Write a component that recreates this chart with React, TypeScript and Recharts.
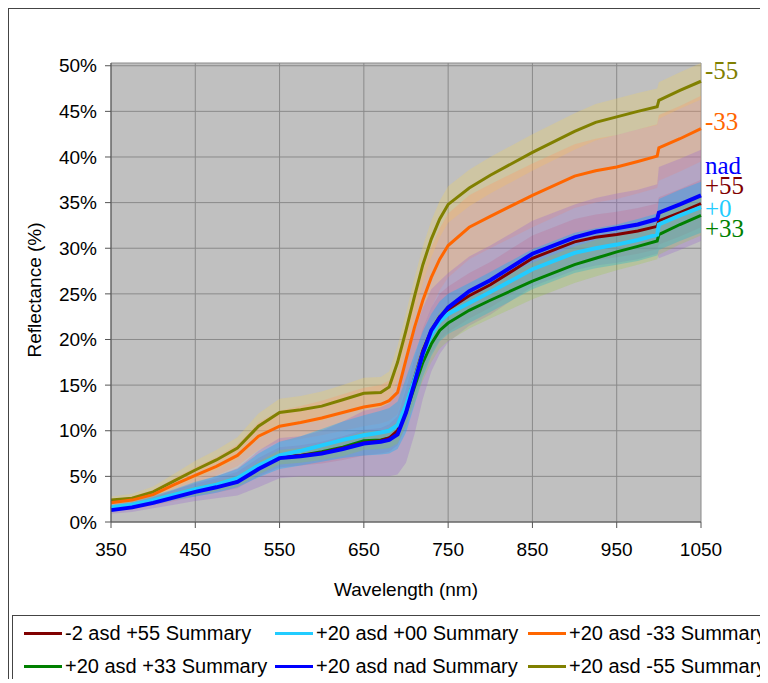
import React from 'react';
import {
  ComposedChart,
  Area,
  Line,
  XAxis,
  YAxis,
  CartesianGrid,
  LabelList
} from 'recharts';

// wavelength samples (nm)
const wavelengths = [
  350, 375, 400, 425, 450, 475, 500, 525, 550, 575, 600, 625, 650, 670, 680, 690, 700,
  710, 720, 730, 740, 750, 775, 800, 850, 900, 925, 950, 975, 998, 1000, 1025, 1050
];

// mean reflectance (%) per view angle
const m55Mean = [2.4, 2.6, 3.3, 4.5, 5.7, 6.8, 8.1, 10.5, 12.0, 12.3, 12.7, 13.4, 14.1, 14.2, 14.8, 17.5, 21.0, 24.7, 28.2, 31.0, 33.2, 34.8, 36.6, 38.0, 40.5, 42.8, 43.8, 44.4, 45.0, 45.5, 46.2, 47.3, 48.3];
const m33Mean = [2.1, 2.4, 3.0, 4.1, 5.1, 6.1, 7.3, 9.4, 10.5, 10.9, 11.4, 12.0, 12.6, 12.9, 13.3, 14.2, 17.8, 21.3, 24.3, 26.8, 28.8, 30.3, 32.3, 33.5, 35.8, 37.9, 38.5, 38.9, 39.5, 40.1, 41.0, 42.0, 43.1];
const nadMean = [1.3, 1.6, 2.1, 2.7, 3.3, 3.8, 4.4, 5.8, 7.0, 7.2, 7.5, 8.0, 8.6, 8.8, 9.0, 9.6, 12.0, 15.2, 18.5, 21.0, 22.4, 23.5, 25.3, 26.5, 29.4, 31.2, 31.8, 32.2, 32.6, 33.2, 33.9, 34.8, 35.8];
const p55Mean = [1.5, 1.8, 2.3, 2.9, 3.5, 4.0, 4.6, 6.0, 7.1, 7.3, 7.6, 8.1, 8.7, 8.9, 9.2, 10.0, 12.6, 15.8, 18.8, 21.0, 22.5, 23.3, 24.8, 26.0, 28.9, 30.7, 31.2, 31.5, 31.9, 32.4, 33.0, 33.9, 34.9];
const p00Mean = [1.6, 1.9, 2.4, 3.0, 3.6, 4.1, 4.8, 6.2, 7.3, 7.8, 8.4, 9.0, 9.5, 9.8, 10.0, 10.6, 12.8, 15.6, 18.4, 20.5, 22.0, 22.8, 24.0, 25.2, 27.7, 29.5, 30.0, 30.4, 30.9, 31.5, 32.6, 33.6, 34.5];
const p33Mean = [1.5, 1.8, 2.3, 2.9, 3.4, 3.9, 4.5, 5.9, 7.1, 7.3, 7.7, 8.2, 8.9, 9.0, 9.2, 9.8, 12.0, 14.8, 17.5, 19.5, 21.0, 21.8, 23.2, 24.3, 26.4, 28.2, 28.9, 29.6, 30.2, 30.8, 31.5, 32.6, 33.6];

// standard deviation (%) per view angle
const m55Std = [0.4, 0.5, 0.6, 0.8, 1.0, 1.1, 1.2, 1.4, 1.5, 1.5, 1.6, 1.6, 1.7, 1.7, 1.7, 1.8, 1.9, 2.0, 2.0, 2.0, 2.0, 2.0, 2.0, 2.0, 2.0, 2.0, 2.0, 2.0, 2.0, 2.0, 2.0, 2.0, 2.0];
const m33Std = [0.3, 0.4, 0.5, 0.7, 0.9, 1.0, 1.2, 1.5, 1.7, 1.8, 1.9, 2.0, 2.1, 2.1, 2.2, 2.4, 2.8, 3.0, 3.2, 3.3, 3.4, 3.5, 3.5, 3.5, 3.5, 3.5, 3.5, 3.5, 3.5, 3.5, 3.6, 3.6, 3.6];
const nadStd = [0.4, 0.5, 0.6, 0.8, 1.0, 1.2, 1.5, 2.0, 2.2, 2.2, 2.5, 3.0, 3.6, 3.8, 4.0, 4.4, 5.5, 5.6, 5.0, 4.5, 4.0, 3.8, 3.8, 3.8, 3.6, 3.6, 3.7, 3.8, 3.8, 3.8, 5.0, 5.0, 5.0];
const p55Std = [0.3, 0.4, 0.5, 0.6, 0.7, 0.8, 0.9, 1.0, 1.1, 1.1, 1.2, 1.3, 1.4, 1.4, 1.5, 1.6, 2.0, 2.2, 2.4, 2.5, 2.5, 2.5, 2.5, 2.5, 2.5, 2.5, 2.5, 2.5, 2.5, 2.5, 2.6, 2.6, 2.6];
const p00Std = [0.3, 0.4, 0.5, 0.6, 0.8, 0.9, 1.0, 1.3, 1.5, 1.6, 1.8, 2.0, 2.2, 2.4, 2.5, 2.6, 3.0, 2.8, 2.5, 2.3, 2.2, 2.2, 2.2, 2.2, 2.2, 2.2, 2.2, 2.2, 2.3, 2.3, 2.8, 2.8, 2.8];
const p33Std = [0.2, 0.3, 0.3, 0.4, 0.5, 0.5, 0.6, 0.7, 0.8, 0.8, 0.9, 1.0, 1.0, 1.0, 1.1, 1.2, 1.5, 1.8, 2.0, 2.0, 2.0, 2.0, 2.0, 2.0, 2.0, 2.0, 2.0, 2.0, 2.0, 2.0, 2.2, 2.2, 2.2];

const xTicks = [350, 450, 550, 650, 750, 850, 950, 1050];
const yTicks = [0, 5, 10, 15, 20, 25, 30, 35, 40, 45, 50];

interface Series {
  key: string;
  name: string;
  tag: string;
  color: string;
  band: string;
  bandOpacity: number;
  width: number;
  tagDy: number;
  mean: number[];
  std: number[];
}

// bands are drawn in this order
const series: Series[] = [
  { key: 'm55', name: '+20 asd -55 Summary', tag: '-55', color: '#808000', band: '#f0d060', bandOpacity: 0.3, width: 3, tagDy: -11, mean: m55Mean, std: m55Std },
  { key: 'm33', name: '+20 asd -33 Summary', tag: '-33', color: '#ff6600', band: '#ff9966', bandOpacity: 0.3, width: 3, tagDy: -7, mean: m33Mean, std: m33Std },
  { key: 'nad', name: '+20 asd nad Summary', tag: 'nad', color: '#0000ff', band: '#9966cc', bandOpacity: 0.3, width: 4, tagDy: -30, mean: nadMean, std: nadStd },
  { key: 'p55', name: '-2 asd +55 Summary', tag: '+55', color: '#800000', band: '#cc3366', bandOpacity: 0.15, width: 3, tagDy: -18, mean: p55Mean, std: p55Std },
  { key: 'p00', name: '+20 asd +00 Summary', tag: '+0', color: '#22ccff', band: '#00b0ff', bandOpacity: 0.35, width: 4, tagDy: 1, mean: p00Mean, std: p00Std },
  { key: 'p33', name: '+20 asd +33 Summary', tag: '+33', color: '#008000', band: '#99cc33', bandOpacity: 0.25, width: 3, tagDy: 13, mean: p33Mean, std: p33Std }
];

// legend order as in the original
const legendOrder = ['p55', 'p00', 'm33', 'p33', 'nad', 'm55'];
const lineOrder = ['m55', 'm33', 'p33', 'p55', 'p00', 'nad'];

const data = wavelengths.map((w, i) => {
  const row: any = { w };
  series.forEach((s) => {
    row[s.key] = s.mean[i];
    row[s.key + 'Band'] = [s.mean[i] - s.std[i], s.mean[i] + s.std[i]];
  });
  return row;
});

const FONT = '"Liberation Sans", Arial, sans-serif';

const endTag = (s: Series) => (props: any) => {
  const { x, y, index } = props;
  if (index !== wavelengths.length - 1) return null;
  return (
    <text
      x={x + 4}
      y={y + s.tagDy}
      fill={s.color}
      fontFamily='"Liberation Serif", "Times New Roman", serif'
      fontSize={25}
      dominantBaseline="central"
    >
      {s.tag}
    </text>
  );
};

const App: React.FC = () => {
  const byKey = (k: string) => series.find((s) => s.key === k)!;

  return (
    <div
      style={{
        position: 'relative',
        width: 758,
        height: 670,
        borderTop: '1px solid #444',
        borderLeft: '1px solid #444',
        background: '#fff',
        overflow: 'hidden',
        fontFamily: FONT
      }}
    >
      <ComposedChart
        width={758}
        height={600}
        data={data}
        margin={{ top: 54, right: 66, left: 0, bottom: 7 }}
      >
        <CartesianGrid stroke="#8a8a8a" fill="#c0c0c0" strokeWidth={1} />
        <XAxis
          dataKey="w"
          type="number"
          domain={[350, 1050]}
          ticks={xTicks}
          height={80}
          tickSize={6}
          tickMargin={15}
          tick={{ fill: '#000', fontSize: 19, fontFamily: FONT }}
          axisLine={{ stroke: '#555' }}
          tickLine={{ stroke: '#555' }}
          label={{
            value: 'Wavelength (nm)',
            position: 'insideBottom',
            offset: 6,
            style: { fill: '#000', fontSize: 19, fontFamily: FONT }
          }}
        />
        <YAxis
          type="number"
          domain={[0, 50]}
          ticks={yTicks}
          width={102}
          tickSize={6}
          tickMargin={8}
          tickFormatter={(v: number) => `${v}%`}
          tick={{ fill: '#000', fontSize: 19, fontFamily: FONT }}
          axisLine={{ stroke: '#555' }}
          tickLine={{ stroke: '#555' }}
        />

        {series.map((s) => (
          <Area
            key={s.key + 'Band'}
            dataKey={s.key + 'Band'}
            type="linear"
            stroke="none"
            fill={s.band}
            fillOpacity={s.bandOpacity}
            isAnimationActive={false}
            activeDot={false}
            dot={false}
          />
        ))}

        {lineOrder.map((k) => {
          const s = byKey(k);
          return (
            <Line
              key={s.key}
              dataKey={s.key}
              type="linear"
              stroke={s.color}
              strokeWidth={s.width}
              dot={false}
              activeDot={false}
              isAnimationActive={false}
            >
              <LabelList dataKey={s.key} content={endTag(s)} />
            </Line>
          );
        })}
      </ComposedChart>

      {/* y-axis title */}
      <div
        style={{
          position: 'absolute',
          left: 26,
          top: 281,
          transform: 'translate(-50%, -50%) rotate(-90deg)',
          whiteSpace: 'nowrap',
          fontSize: 19,
          color: '#000'
        }}
      >
        Reflectance (%)
      </div>

      {/* legend box */}
      <div
        style={{
          position: 'absolute',
          left: 3,
          top: 606,
          width: 800,
          height: 90,
          border: '1px solid #444',
          background: '#fff'
        }}
      >
        {legendOrder.map((k, i) => {
          const s = byKey(k);
          const col = i % 3;
          const row = Math.floor(i / 3);
          return (
            <div
              key={k}
              style={{
                position: 'absolute',
                left: [11, 262, 515][col],
                top: row === 0 ? 5 : 38,
                height: 24,
                display: 'flex',
                alignItems: 'center',
                whiteSpace: 'nowrap',
                fontSize: 20,
                color: '#000'
              }}
            >
              <span
                style={{
                  display: 'inline-block',
                  width: 38,
                  height: 3,
                  background: s.color,
                  marginRight: 3
                }}
              />
              {s.name}
            </div>
          );
        })}
      </div>
    </div>
  );
};

export default App;
